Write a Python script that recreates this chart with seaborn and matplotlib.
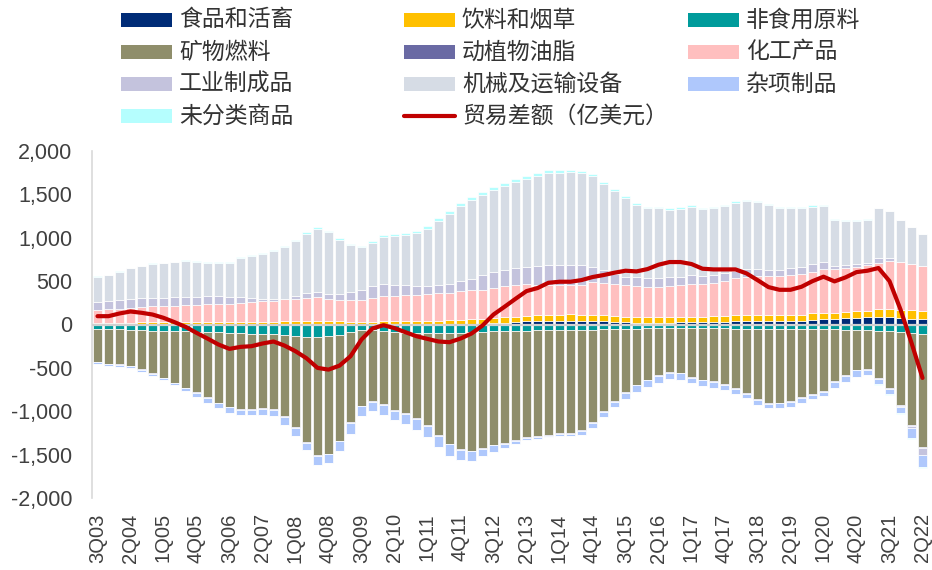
import numpy as np
import matplotlib
matplotlib.use("Agg")
import matplotlib.pyplot as plt
import seaborn as sns
from matplotlib.patches import Rectangle
from matplotlib.lines import Line2D

# ---------------- data (亿美元) ----------------
quarters = [f"{q}Q{y % 100:02d}" for y in range(2003, 2023) for q in range(1, 5)][2:78]

food = [3, 3, 3, 3, 3, 3, 3, 3, 3, 3, 3, 3, 3, 3, 3, 3, 3, 3, -5, -8,
        -8, -8, -5, 3, 3, 3, 3, 3, 3, 3, 3, 3, 3, 3, 5, 8, 12, 20, 30, 38,
        46, 46, 46, 46, 42, 38, 35, 31, 27, 23, 23, 23, 23, 27, 27, 27, 31, 31, 35, 35,
        35, 35, 38, 38, 46, 50, 58, 65, 73, 77, 81, 81, 81, 73, 69, 62]
beverage = [17, 17, 19, 19, 21, 21, 22, 22, 23, 25, 27, 27, 27, 29, 29, 30, 31, 33, 38, 42,
            45, 42, 36, 31, 31, 31, 32, 35, 37, 39, 41, 43, 45, 49, 53, 58, 66, 65, 62, 62,
            66, 69, 69, 73, 70, 70, 69, 65, 62, 62, 58, 62, 62, 62, 65, 65, 65, 69, 73, 73,
            73, 73, 70, 74, 69, 77, 73, 70, 69, 73, 73, 92, 92, 93, 93, 88]
raw_mat = [-55, -55, -57, -60, -65, -70, -72, -75, -78, -82, -88, -92, -95, -100, -105, -110, -115, -120, -128, -132,
           -135, -130, -115, -90, -65, -60, -80, -90, -98, -100, -100, -100, -98, -95, -90, -85, -80, -75, -72, -70,
           -68, -66, -65, -63, -60, -58, -55, -52, -50, -48, -46, -45, -45, -45, -46, -46, -46, -46, -47, -48,
           -48, -48, -47, -47, -48, -50, -52, -55, -58, -60, -65, -72, -80, -88, -95, -105]
fuel = [-372, -395, -401, -414, -447, -488, -540, -595, -650, -700, -751, -809, -852, -874, -869, -856, -859, -939, -1053, -1215,
        -1366, -1352, -1220, -1034, -869, -822, -840, -896, -922, -978, -1063, -1174, -1276, -1341, -1365, -1343, -1306, -1292, -1264, -1231,
        -1218, -1208, -1190, -1188, -1160, -1070, -942, -830, -728, -645, -589, -540, -506, -509, -558, -589, -609, -643, -685, -741,
        -811, -857, -854, -839, -791, -755, -718, -600, -527, -460, -447, -548, -655, -844, -1068, -1308]
oils = [-7] * 76
chemical = [146, 153, 159, 171, 180, 188, 187, 194, 197, 199, 201, 205, 209, 218, 226, 233, 239, 253, 258, 262,
            271, 254, 249, 243, 247, 266, 288, 293, 299, 301, 306, 312, 318, 329, 335, 334, 338, 358, 362, 366,
            346, 339, 339, 339, 342, 377, 377, 374, 361, 354, 350, 350, 354, 361, 378, 378, 385, 397, 427, 443,
            450, 450, 450, 458, 470, 481, 504, 500, 505, 512, 527, 531, 554, 554, 535, 524]
industrial = [92, 93, 96, 96, 100, 96, 92, 93, 93, 89, 96, 92, 81, 66, 46, 23, 16, 7, 31, 58,
              57, 54, 65, 96, 116, 143, 143, 123, 115, 100, 93, 96, 100, 116, 127, 174, 188, 183, 193, 196,
              212, 227, 227, 231, 227, 173, 143, 108, 97, 108, 104, 100, 108, 97, 100, 88, 93, 92, 81, 84,
              77, 70, 66, 77, 77, 85, 81, 39, 42, 35, 23, 62, 35, -8, -20, -85]
machinery = [294, 302, 333, 360, 368, 390, 402, 404, 413, 402, 387, 379, 394, 454, 481, 527, 557, 596, 633, 685,
             729, 716, 629, 543, 500, 502, 547, 569, 579, 615, 663, 740, 811, 867, 915, 922, 950, 974, 993, 1020,
             1043, 1069, 1067, 1065, 1064, 1053, 995, 961, 909, 831, 804, 804, 775, 783, 788, 772, 767, 773, 790, 789,
             777, 750, 723, 693, 678, 667, 648, 531, 504, 500, 501, 578, 551, 489, 427, 366]
misc = [-20, -24, -20, -23, -28, -24, -24, -24, -35, -43, -55, -58, -62, -59, -66, -70, -74, -89, -93, -89,
        -105, -105, -112, -128, -118, -112, -113, -112, -116, -128, -131, -132, -132, -116, -109, -86, -78, -54, -35, -28,
        -27, -16, -28, -32, -43, -58, -66, -66, -74, -78, -82, -82, -73, -74, -67, -70, -70, -62, -58, -55,
        -58, -54, -58, -62, -59, -50, -51, -66, -70, -74, -66, -61, -59, -69, -115, -136]
unclassified = [6, 6, 6, 6, 6, 6, 6, 8, 10, 10, 10, 10, 10, 12, 12, 12, 12, 12, 14, 16,
                18, 16, 14, 12, 12, 14, 18, 20, 22, 24, 26, 30, 32, 34, 35, 36, 36, 36, 35, 35,
                35, 32, 30, 28, 26, 25, 25, 24, 22, 20, 20, 20, 22, 22, 20, 18, 18, 16, 14, 12,
                12, 12, 12, 12, 12, 14, 14, 8, 8, 8, 8, -5, -8, -12, -15, -15]
balance = [96, 96, 127, 150, 135, 115, 77, 27, -27, -96, -162, -231, -281, -258, -250, -219, -196, -243, -308, -389,
           -500, -520, -474, -366, -173, -46, -8, -42, -89, -135, -166, -196, -204, -162, -104, -12, 115, 204, 296, 385,
           420, 481, 493, 493, 512, 547, 570, 597, 620, 612, 639, 689, 720, 720, 697, 643, 635, 635, 635, 589,
           512, 431, 400, 400, 435, 500, 551, 497, 543, 604, 620, 651, 500, 173, -212, -616]

series_names = ["食品和活畜", "饮料和烟草", "非食用原料", "矿物燃料", "动植物油脂",
                "化工产品", "工业制成品", "机械及运输设备", "杂项制品", "未分类商品"]
series_vals = [food, beverage, raw_mat, fuel, oils, chemical, industrial, machinery, misc, unclassified]
series_colors = ["#002C77", "#FFC000", "#009B9B", "#8F8E6B", "#6A6AA4",
                 "#FFBFBF", "#C4C3DD", "#D6DCE5", "#AFC8FC", "#B5FEFE"]
line_name = "贸易差额（亿美元）"
line_color = "#C00000"

# ---------------- figure ----------------
sns.set_theme(style="white")
plt.rcParams['font.family'] = ['Liberation Sans', 'Noto Sans CJK SC', 'DejaVu Sans']

W, H = 932, 570
fig = plt.figure(figsize=(W / 100, H / 100), dpi=100)
ax = fig.add_axes([92 / W, 1 - 498 / H, (928 - 92) / W, (498 - 151) / H])

pos_base = np.zeros(len(quarters))
neg_base = np.zeros(len(quarters))
for vals, col in zip(series_vals, series_colors):
    v = np.asarray(vals, dtype=float)
    pos = np.where(v > 0, v, 0.0)
    neg = np.where(v < 0, v, 0.0)
    if pos.any():
        sns.barplot(x=quarters, y=pos, bottom=pos_base.copy(), color=col, saturation=1,
                    width=0.82, edgecolor="white", linewidth=0.5, errorbar=None, ax=ax, zorder=2)
    if neg.any():
        sns.barplot(x=quarters, y=neg, bottom=neg_base.copy(), color=col, saturation=1,
                    width=0.82, edgecolor="white", linewidth=0.5, errorbar=None, ax=ax, zorder=2)
    pos_base += pos
    neg_base += neg

ax.axhline(0, color="#D0D0D0", lw=1.6, zorder=3)
sns.lineplot(x=np.arange(len(quarters)), y=balance, color=line_color, linewidth=3.0,
             legend=False, ax=ax, zorder=4, sort=False)

ax.set_xlim(-0.5, len(quarters) - 0.5)
ax.set_ylim(-2000, 2000)
ax.set_yticks(range(-2000, 2001, 500))
ax.set_yticklabels([f"{t:,}" for t in range(-2000, 2001, 500)], fontsize=15.5, color="#404040")
ax.set_xticks(range(0, len(quarters), 3))
ax.set_xticklabels(quarters[::3], rotation=90, fontsize=14.5, color="#404040")
ax.tick_params(axis="x", length=0, pad=11)
ax.tick_params(axis="y", length=0, pad=14)
ax.set_xlabel("")
ax.set_ylabel("")
for s in ["top", "right", "bottom"]:
    ax.spines[s].set_visible(False)
ax.spines["left"].set_color("#D9D9D9")
ax.spines["left"].set_linewidth(1.2)

# ---------------- legend (manual grid, 3 columns) ----------------
col_x = [121, 404, 688]
row_y = [20, 52, 84, 116]
items = list(zip(series_names, series_colors)) + [(line_name, None)]
for k, (name, col) in enumerate(items):
    r, c = divmod(k, 3)
    x0, yc = col_x[c], row_y[r]
    if col is not None:
        fig.add_artist(Rectangle((x0 / W, 1 - (yc + 7) / H), 51 / W, 14 / H,
                                 transform=fig.transFigure, facecolor=col, edgecolor="none"))
    else:
        fig.add_artist(Line2D([x0 / W, (x0 + 51) / W], [1 - yc / H, 1 - yc / H],
                              transform=fig.transFigure, color=line_color, linewidth=3))
    fig.text((x0 + 58) / W, 1 - yc / H, name, fontsize=16.5, color="#333333",
             va="center", ha="left", family=["Noto Sans CJK SC", "DejaVu Sans"])

fig.savefig("out.png", dpi=100)
